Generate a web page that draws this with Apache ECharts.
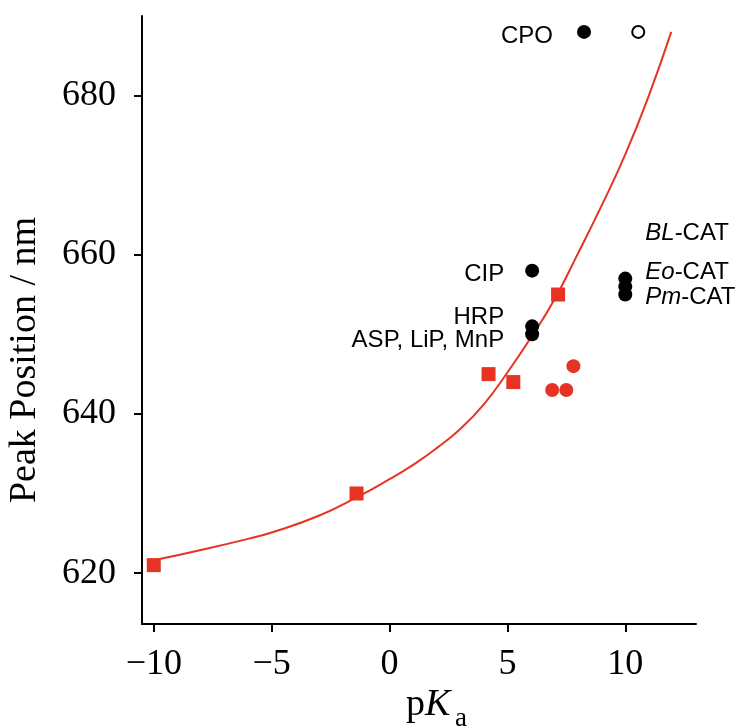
<!DOCTYPE html>
<html><head><meta charset="utf-8">
<script src="https://cdn.jsdelivr.net/npm/echarts@6/dist/echarts.min.js"></script>
<style>html,body{margin:0;padding:0;background:#fff}#c{width:738px;height:727px}</style>
</head><body><div id="c"></div>
<script>
// ---- data ----
const xTicks = [-10, -5, 0, 5, 10];
const yTicks = [620, 640, 660, 680];
const squareX = [-10, -1.4, 4.2, 5.25, 7.15];
const squareY = [621, 630, 645, 644, 655];
const redCircleX = [6.9, 7.5, 7.8];
const redCircleY = [643, 643, 646];
const blackX = [8.25, 6.05, 6.05, 6.05, 10.0, 10.0, 10.0];
const blackY = [688, 658, 651, 650, 657, 656, 655];
const blackNames = ['CPO', 'CIP', 'HRP', 'ASP, LiP, MnP', '{i|BL}-CAT', '{i|Eo}-CAT', '{i|Pm}-CAT'];
const openX = [10.55];
const openY = [688];
const curveX = [-10, -8, -6, -5, -3, -1.4, 0, 1, 2, 3, 4, 5, 6, 7, 8, 9, 10, 11, 11.95];
const curveY = [621.6, 622.9, 624.3, 625.1, 627.2, 629.5, 631.8, 633.6, 635.7, 638.1, 641.2, 645.2, 649.6, 654.4, 660.2, 666.2, 672.6, 680.0, 688.0];

// ---- layout (label offsets in px) ----
const labelLayout = [
  {align: 'right', offset: [-31, 4]},
  {align: 'right', offset: [-28, 4]},
  {align: 'right', offset: [-28, -9]},
  {align: 'right', offset: [-28, 6]},
  {align: 'left', offset: [20, -45]},
  {align: 'left', offset: [20, -14]},
  {align: 'left', offset: [20, 3]}
];

const RED = '#e63323';
const zip = (a, b) => a.map((v, i) => [v, b[i]]);
const fmt = v => v < 0 ? '\u2212' + Math.abs(v) : String(v);

const chart = echarts.init(document.getElementById('c'), null, {renderer: 'canvas'});
const serif = '"Liberation Serif", "Times New Roman", serif';
const sans = '"Liberation Sans", Arial, Helvetica, sans-serif';

chart.setOption({
  animation: false,
  backgroundColor: '#fff',
  grid: {left: 142, right: 42, top: 16, bottom: 103},
  xAxis: {
    type: 'value', min: -10.5, max: 13,
    axisLine: {show: true, onZero: false, lineStyle: {color: '#000', width: 2}},
    axisTick: {show: true, customValues: xTicks, length: 8, lineStyle: {color: '#000', width: 2}},
    axisLabel: {customValues: xTicks, formatter: fmt, color: '#000', fontFamily: serif, fontSize: 36, margin: 23},
    splitLine: {show: false}
  },
  yAxis: {
    type: 'value', min: 613.6, max: 690,
    axisLine: {show: true, onZero: false, lineStyle: {color: '#000', width: 2}},
    axisTick: {show: true, customValues: yTicks, length: 8, lineStyle: {color: '#000', width: 2}},
    axisLabel: {customValues: yTicks, formatter: fmt, color: '#000', fontFamily: serif, fontSize: 36, margin: 26},
    splitLine: {show: false}
  },
  graphic: [
    {type: 'text', x: 25, y: 360, rotation: Math.PI / 2,
     style: {text: 'Peak Position / nm', fill: '#000', font: '38px ' + serif, align: 'center', verticalAlign: 'middle'}},
    {type: 'text', x: 406, y: 705,
     style: {text: '{p|p}{k|K}', fill: '#000', align: 'left', verticalAlign: 'middle',
       rich: {p: {fontFamily: serif, fontSize: 38, fill: '#000'}, k: {fontFamily: serif, fontSize: 38, fontStyle: 'italic', fill: '#000'}}}},
    {type: 'text', x: 455, y: 719,
     style: {text: 'a', fill: '#000', font: '27px ' + serif, align: 'left', verticalAlign: 'middle'}}
  ],
  series: [
    {type: 'line', data: zip(curveX, curveY), smooth: true, showSymbol: false, symbol: 'none',
     lineStyle: {color: RED, width: 2}, z: 1},
    {type: 'scatter', data: zip(squareX, squareY), symbol: 'rect', symbolSize: 14,
     itemStyle: {color: RED, opacity: 1}, z: 3},
    {type: 'scatter', data: zip(redCircleX, redCircleY), symbol: 'circle', symbolSize: 14,
     itemStyle: {color: RED, opacity: 1}, z: 3},
    {type: 'scatter', symbol: 'circle', symbolSize: 14, itemStyle: {color: '#000', opacity: 1}, z: 4,
     data: blackX.map((x, i) => ({
       value: [x, blackY[i]],
       label: {show: true, position: 'inside', formatter: blackNames[i], align: labelLayout[i].align,
         verticalAlign: 'middle', offset: labelLayout[i].offset, color: '#000', fontFamily: sans, fontSize: 24,
         textBorderWidth: 0,
         rich: {i: {fontFamily: sans, fontSize: 24, fontStyle: 'italic', color: '#000'}}}
     }))},
    {type: 'scatter', data: zip(openX, openY), symbol: 'circle', symbolSize: 12,
     itemStyle: {color: '#fff', borderColor: '#000', borderWidth: 2, opacity: 1}, z: 4}
  ]
});
</script></body></html>
